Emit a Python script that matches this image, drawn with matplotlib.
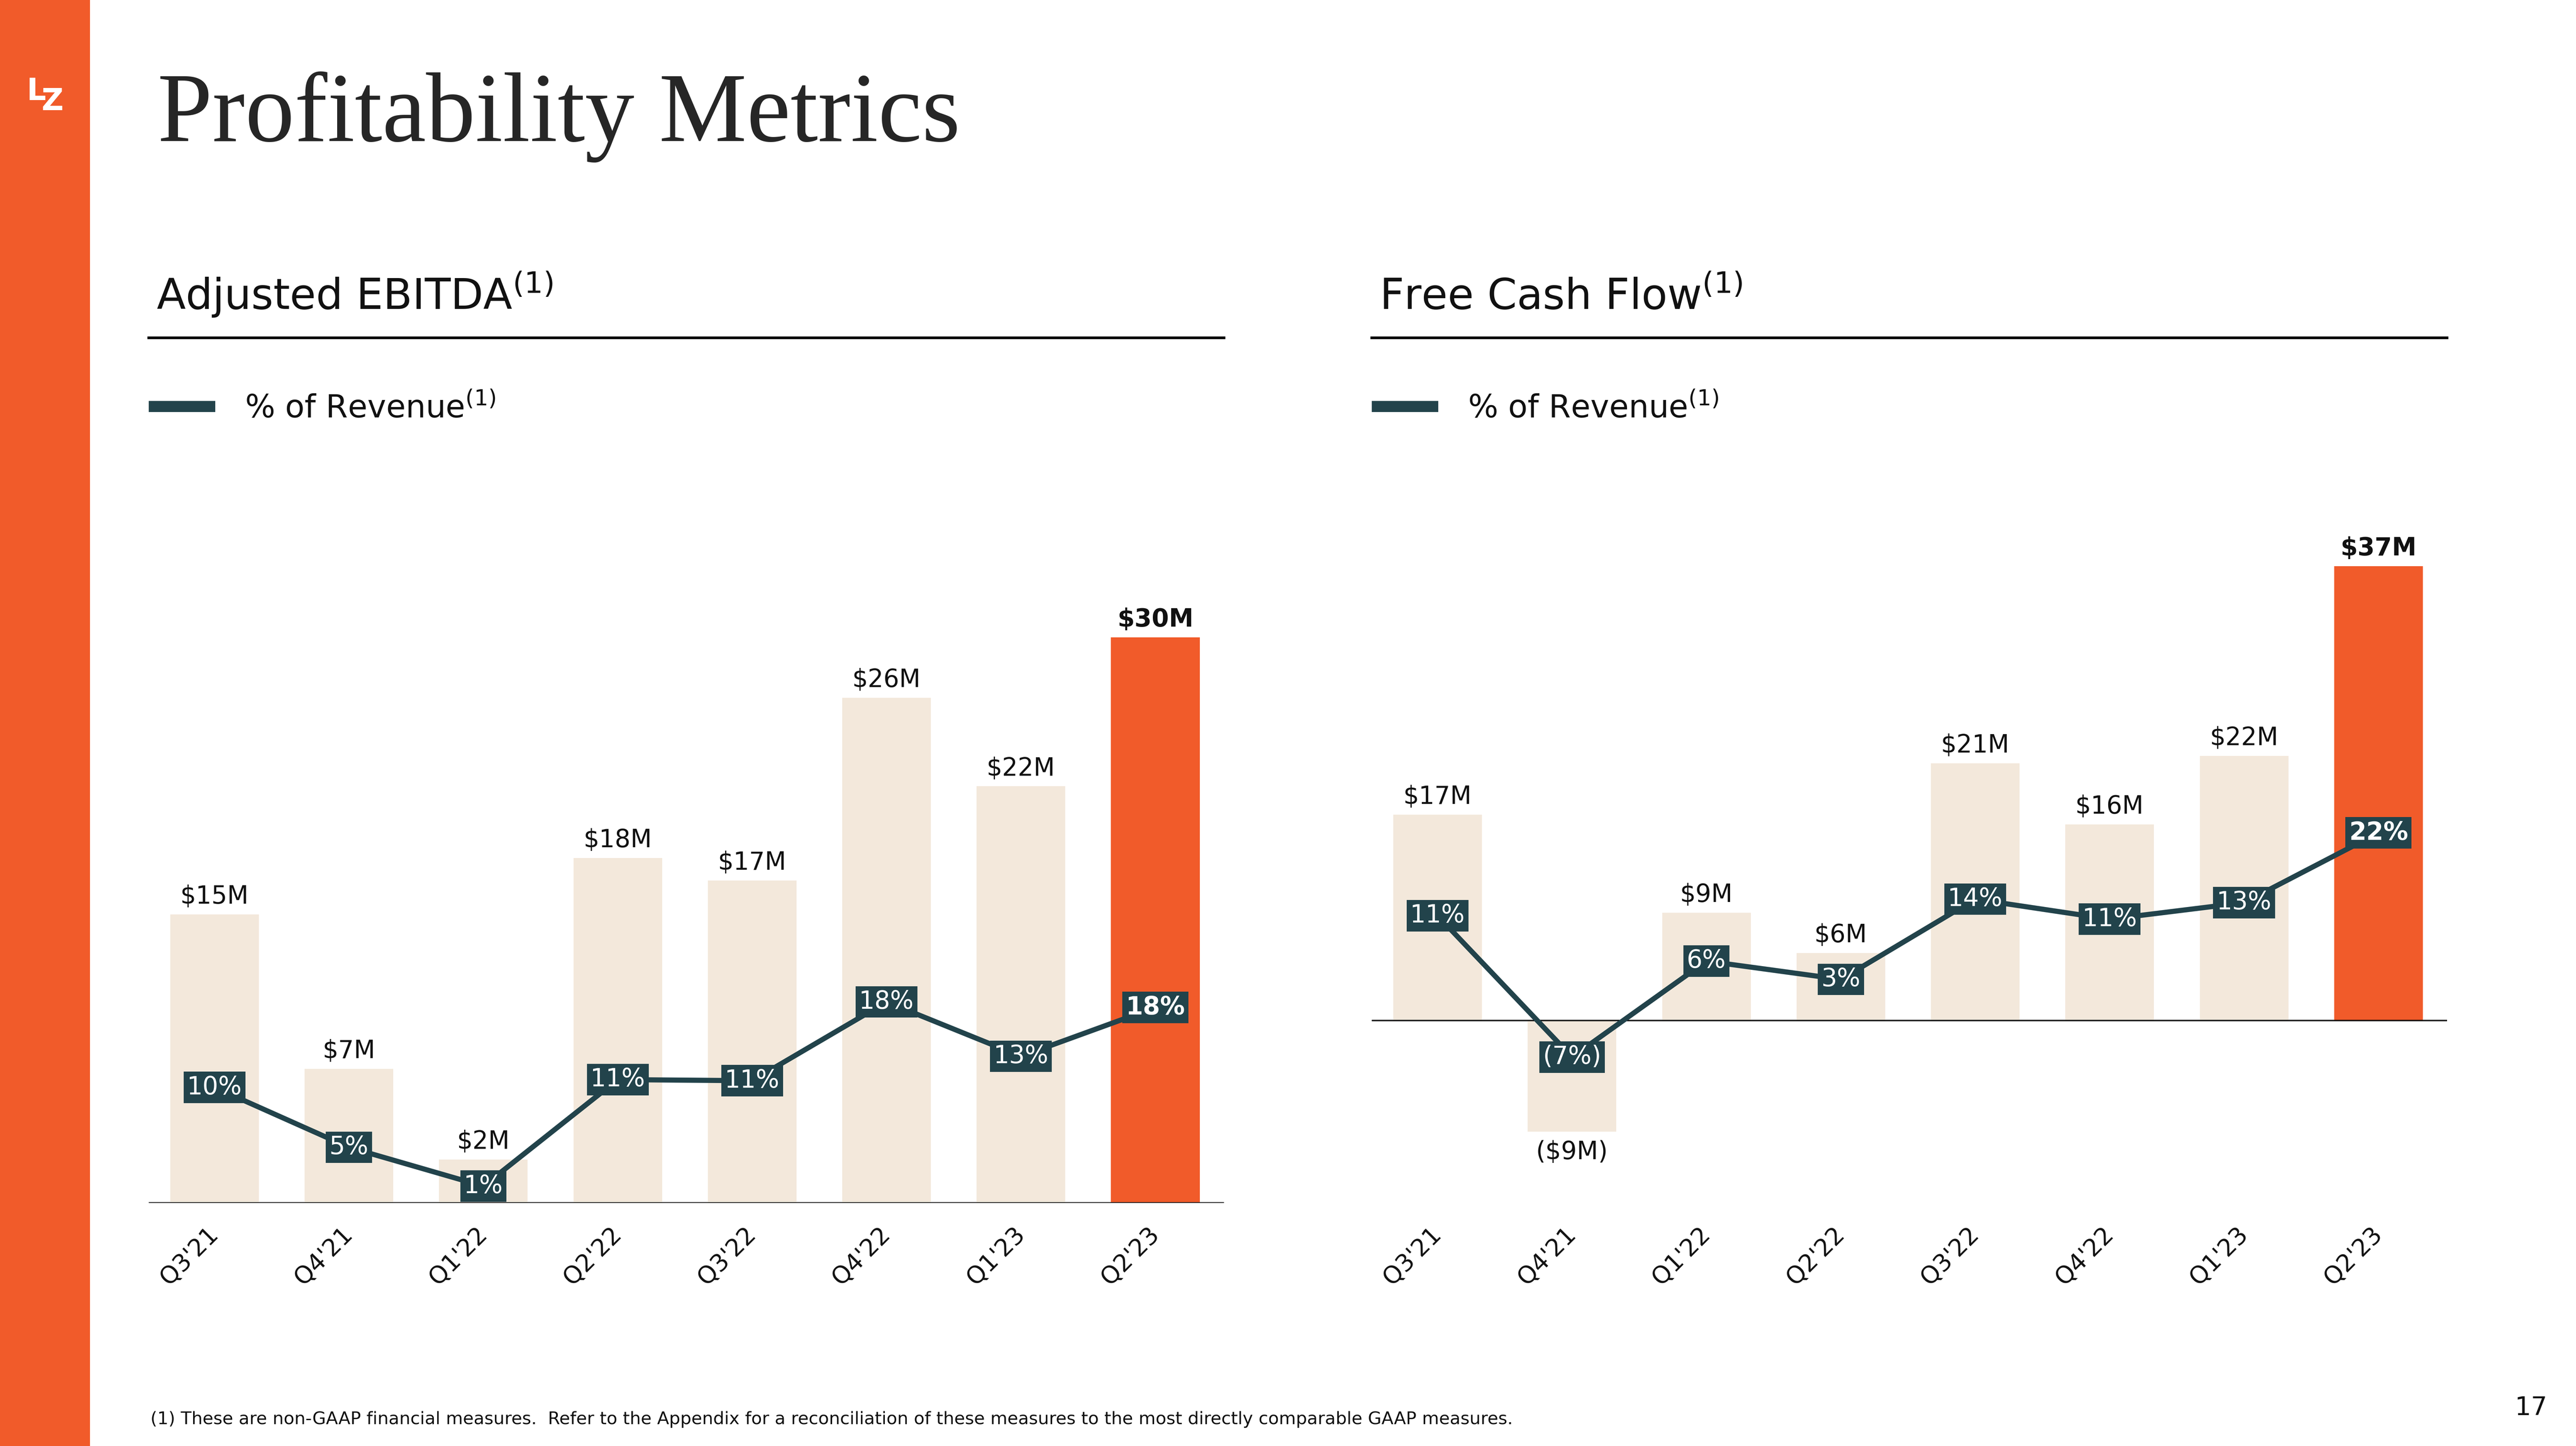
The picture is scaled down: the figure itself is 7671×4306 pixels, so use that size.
import numpy as np
import matplotlib
matplotlib.use('Agg')
import matplotlib.pyplot as plt
from matplotlib.patches import Rectangle
from matplotlib.lines import Line2D

# quarters shown on both charts
quarters = ["Q3'21", "Q4'21", "Q1'22", "Q2'22", "Q3'22", "Q4'22", "Q1'23", "Q2'23"]

# Adjusted EBITDA ($M) and % of revenue
ebitda = [15.3, 7.1, 2.3, 18.3, 17.1, 26.8, 22.1, 30.0]
ebitda_labels = ['$15M', '$7M', '$2M', '$18M', '$17M', '$26M', '$22M', '$30M']
ebitda_pct = [10.4, 5.0, 1.5, 11.1, 11.0, 18.1, 13.2, 17.6]
ebitda_pct_labels = ['10%', '5%', '1%', '11%', '11%', '18%', '13%', '18%']

# Free cash flow ($M) and % of revenue
fcf = [16.8, -9.1, 8.8, 5.5, 21.0, 16.0, 21.6, 37.1]
fcf_labels = ['$17M', '($9M)', '$9M', '$6M', '$21M', '$16M', '$22M', '$37M']
fcf_pct = [12.0, -4.2, 6.8, 4.7, 13.9, 11.6, 13.5, 21.5]
fcf_pct_labels = ['11%', '(7%)', '6%', '3%', '14%', '11%', '13%', '22%']

orange = '#F15B2A'
beige = '#F3E8DB'
teal = '#22434B'
ink = '#111111'

plt.rcParams['font.family'] = ['DejaVu Sans']
plt.rcParams['mathtext.fontset'] = 'dejavusans'

fig = plt.figure(figsize=(7671 / 500, 4306 / 500), dpi=500)
fig.patch.set_facecolor('white')

# orange strip + logo
fig.add_artist(Rectangle((0, 0), 0.03495, 1, transform=fig.transFigure, color=orange, lw=0))
fig.text(0.01043, 0.93068, 'L', color='white', fontsize=13, fontweight='bold', va='baseline')
fig.text(0.01616, 0.92383, 'Z', color='white', fontsize=13, fontweight='bold', va='baseline')

# slide title
fig.text(0.0611, 0.90239, 'Profitability Metrics', fontsize=42.3, family='Liberation Serif',
         color='#262626', va='baseline')

ax_w = 0.41741
ax_bottom = 0.16818
ax_h = 0.49091
dx = 744.5 / 1568


def draw_panel(x0, title, vals, val_labels, pcts, pct_labels, ylim, pct_ylim):
    # header, rule, legend
    fig.text(x0 + 4.8 / 1568, 0.78602, title + r'$^{(1)}$', fontsize=18.2, color=ink, va='baseline')
    fig.add_artist(Line2D([x0, x0 + ax_w], [1 - 205.5 / 880] * 2, transform=fig.transFigure,
                          color='black', lw=1.15))
    fig.add_artist(Rectangle((x0, 0.71500), 0.02583, 0.00773, transform=fig.transFigure,
                             color=teal, lw=0))
    fig.text(x0 + 58.5 / 1568, 0.71102, r'% of Revenue$^{(1)}$', fontsize=13.6, color=ink,
             va='baseline')

    ax = fig.add_axes([x0, ax_bottom, ax_w, ax_h])
    x = np.arange(len(quarters))
    n = len(quarters)
    colors = [beige] * (n - 1) + [orange]
    ax.bar(x, vals, width=0.66, color=colors, zorder=1)
    ax.axhline(0, color='black', lw=0.6, zorder=2)
    ax.set_xlim(-0.49, 7.51)
    ax.set_ylim(*ylim)
    for s in ax.spines.values():
        s.set_visible(False)
    ax.set_yticks([])
    ax.set_xticks(x)
    ax.set_xticklabels(quarters, rotation=45, ha='right', va='center', rotation_mode='anchor',
                       fontsize=10.3, color=ink)
    ax.tick_params(axis='x', length=0, pad=12)

    for xi, v, lab in zip(x, vals, val_labels):
        wt = 'bold' if xi == n - 1 else 'normal'
        if v >= 0:
            ax.annotate(lab, (xi, v), xytext=(0, 4.6), textcoords='offset points',
                        ha='center', va='baseline', fontsize=10.6, fontweight=wt, color=ink)
        else:
            ax.annotate(lab, (xi, v), xytext=(0, -3.5), textcoords='offset points',
                        ha='center', va='top', fontsize=10.6, fontweight=wt, color=ink)

    ax2 = ax.twinx()
    ax2.set_ylim(*pct_ylim)
    ax2.axis('off')
    ax2.plot(x, pcts, color=teal, lw=2.2, zorder=3)
    for xi, p, lab in zip(x, pcts, pct_labels):
        wt = 'bold' if xi == n - 1 else 'normal'
        ax2.text(xi, p, lab, ha='center', va='center', fontsize=10.6, fontweight=wt,
                 color='white', zorder=4,
                 bbox=dict(boxstyle='square,pad=0.14', fc=teal, ec='none'))
    return ax


draw_panel(90.5 / 1568, 'Adjusted EBITDA', ebitda, ebitda_labels, ebitda_pct, ebitda_pct_labels,
           (0, 432 / 11.47), (0, 432 / 6.755))
draw_panel(90.5 / 1568 + dx, 'Free Cash Flow', fcf, fcf_labels, fcf_pct, fcf_pct_labels,
           (-111 / 7.45, 321 / 7.45), (-111 / 5.31, 321 / 5.31))

fig.text(0.05842, 0.01511,
         '(1) These are non-GAAP financial measures.  Refer to the Appendix for a reconciliation '
         'of these measures to the most directly comparable GAAP measures.',
         fontsize=7.5, color=ink, va='baseline')
fig.text(0.9889, 0.02136, '17', fontsize=11, color=ink, ha='right', va='baseline')

fig.savefig('out.png', dpi=500)
